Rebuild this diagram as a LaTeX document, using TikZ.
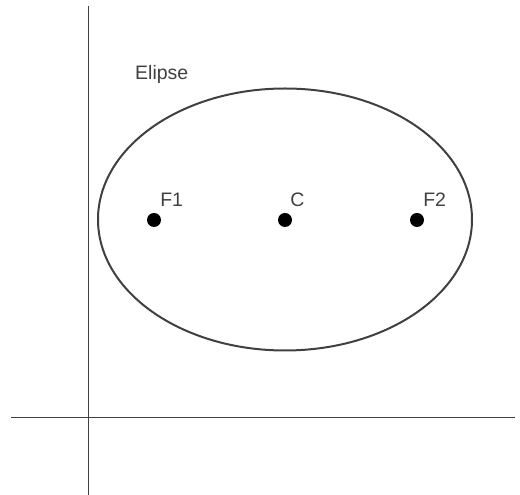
\documentclass[tikz,border=0pt]{standalone}
\usepackage{fontspec}
\setmainfont{Liberation Sans}
\usetikzlibrary{positioning}
\definecolor{grigio}{HTML}{404040}
\begin{document}
\begin{tikzpicture}[x=1pt,y=1pt,
    punto/.style={circle, fill=black, inner sep=0pt, minimum size=14pt},
    etichetta/.style={text=grigio, font=\fontsize{19.5}{23}\selectfont, inner sep=0pt}]
        \useasboundingbox (0,0) rectangle (520,495);
        %disegno assi
        \coordinate (ynord) at (88.5,489);
        \coordinate (ysud) at (88.5,0);
        \coordinate (xovest) at (11,77.5);
        \coordinate (xest) at (515,77.5);
        \draw[line width=1.5pt, grigio] (ynord) -- (ysud);
        \draw[line width=1.5pt, grigio] (xovest) -- (xest);
        %disegno ellisse
        \draw[line width=2pt, grigio] (285,275.5) ellipse [x radius=187, y radius=131];
        %fuochi e centro
        \node[punto] (f1) at (154,275) {};
        \node[punto] (c) at (285,275) {};
        \node[punto] (f2) at (417,275) {};
        %labels
        \node[etichetta, above right=8pt and 1pt of f1] (lf1) {F1};
        \node[etichetta, above right=8pt and 0pt of c] (lc) {C};
        \node[etichetta, above right=8pt and 1pt of f2] (lf2) {F2};
        \node[etichetta, anchor=base west] (titolo) at (135,415) {Elipse};
    \end{tikzpicture}
\end{document}
